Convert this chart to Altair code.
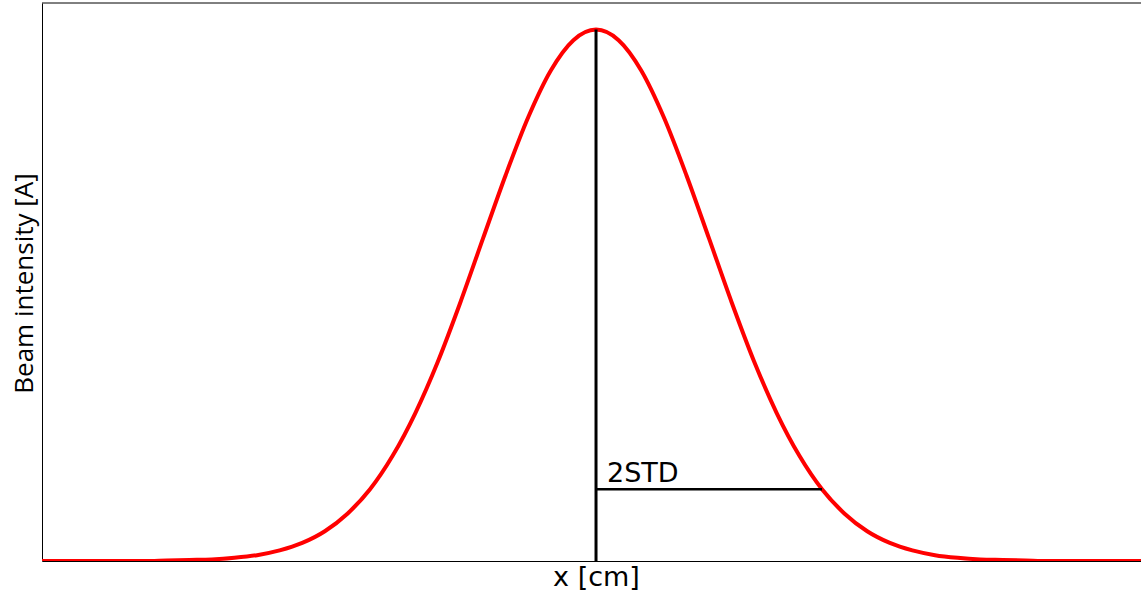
import altair as alt
import pandas as pd

# Beam profile sampled across the transverse position (cm, centred on the mean)
positions = [
    -5.0, -4.8, -4.6, -4.4, -4.2, -4.0, -3.8, -3.6, -3.4, -3.2,
    -3.0, -2.8, -2.6, -2.4, -2.2, -2.0, -1.8, -1.6, -1.4, -1.2,
    -1.0, -0.8, -0.6, -0.4, -0.2, 0.0, 0.2, 0.4, 0.6, 0.8,
    1.0, 1.2, 1.4, 1.6, 1.8, 2.0, 2.2, 2.4, 2.6, 2.8,
    3.0, 3.2, 3.4, 3.6, 3.8, 4.0, 4.2, 4.4, 4.6, 4.8, 5.0,
]
intensity = [
    0.000, 0.000, 0.000, 0.000, 0.000, 0.000, 0.001, 0.002, 0.003, 0.006,
    0.011, 0.020, 0.034, 0.056, 0.089, 0.135, 0.198, 0.278, 0.375, 0.487,
    0.607, 0.726, 0.835, 0.923, 0.980, 1.000, 0.980, 0.923, 0.835, 0.726,
    0.607, 0.487, 0.375, 0.278, 0.198, 0.135, 0.089, 0.056, 0.034, 0.020,
    0.011, 0.006, 0.003, 0.002, 0.001, 0.000, 0.000, 0.000, 0.000, 0.000, 0.000,
]

# Markers: centre line up to the peak, and the 2-sigma half-width
mean_pos = [0.0]
peak_level = [1.0]
two_std_end = [2.0]
two_std_level = [0.135]
marker_text = ["2STD"]

W, H = 1099, 558

curve_df = pd.DataFrame({"x": positions, "intensity": intensity})
centre_df = pd.DataFrame({"x": mean_pos, "y0": [0.0], "y1": peak_level})
span_df = pd.DataFrame({"x": mean_pos, "x2": two_std_end, "y": two_std_level})
label_df = pd.DataFrame({"x": mean_pos, "y": two_std_level, "label": marker_text})

xs = alt.Scale(domain=[-4.903, 4.823], nice=False, zero=False)
ys = alt.Scale(domain=[0, 1.05], nice=False, zero=False)

x_axis = alt.Axis(
    title="x [cm]", labels=False, ticks=False, grid=False,
    domainColor="black", domainWidth=1,
    titleFont="DejaVu Sans", titleFontSize=27, titleFontWeight="normal",
    titleColor="black", titleX=554, titleY=24, titleBaseline="alphabetic",
    titleAlign="center",
)
y_axis = alt.Axis(
    title="Beam intensity [A]", labels=False, ticks=False, grid=False,
    domainColor="black", domainWidth=1,
    titleFont="Open Sans", titleFontSize=26, titleFontWeight="normal",
    titleColor="black", titleAngle=270, titleX=-10, titleY=280,
    titleBaseline="alphabetic", titleAlign="center",
)

curve = alt.Chart(curve_df).mark_line(
    color="#ff0000", strokeWidth=4, interpolate="monotone", clip=True
).encode(
    x=alt.X("x:Q", scale=xs, axis=x_axis),
    y=alt.Y("intensity:Q", scale=ys, axis=y_axis),
)

centre = alt.Chart(centre_df).mark_rule(color="black", strokeWidth=3).encode(
    x=alt.X("x:Q", scale=xs), y=alt.Y("y0:Q", scale=ys), y2="y1:Q"
)

span = alt.Chart(span_df).mark_rule(color="black", strokeWidth=2.5).encode(
    x=alt.X("x:Q", scale=xs), x2="x2:Q", y=alt.Y("y:Q", scale=ys)
)

label = alt.Chart(label_df).mark_text(
    align="left", baseline="alphabetic", dx=11, dy=-7,
    font="DejaVu Sans", fontSize=27, color="black",
).encode(x=alt.X("x:Q", scale=xs), y=alt.Y("y:Q", scale=ys), text="label:N")

# top edge of the frame
top_edge = alt.Chart(pd.DataFrame({"k": [0]})).mark_rule(
    color="black", strokeWidth=1
).encode(x=alt.value(0), x2=alt.value(W), y=alt.value(0))

chart = (
    alt.layer(curve, centre, span, label, top_edge)
    .properties(
        width=W, height=H,
        autosize=alt.AutoSizeParams(type="none"),
        padding={"left": 42, "top": 3, "right": 0, "bottom": 31},
        background="white",
    )
    .configure_view(stroke=None)
)

chart.save("out.html", embed_options={"renderer": "svg", "actions": False})
